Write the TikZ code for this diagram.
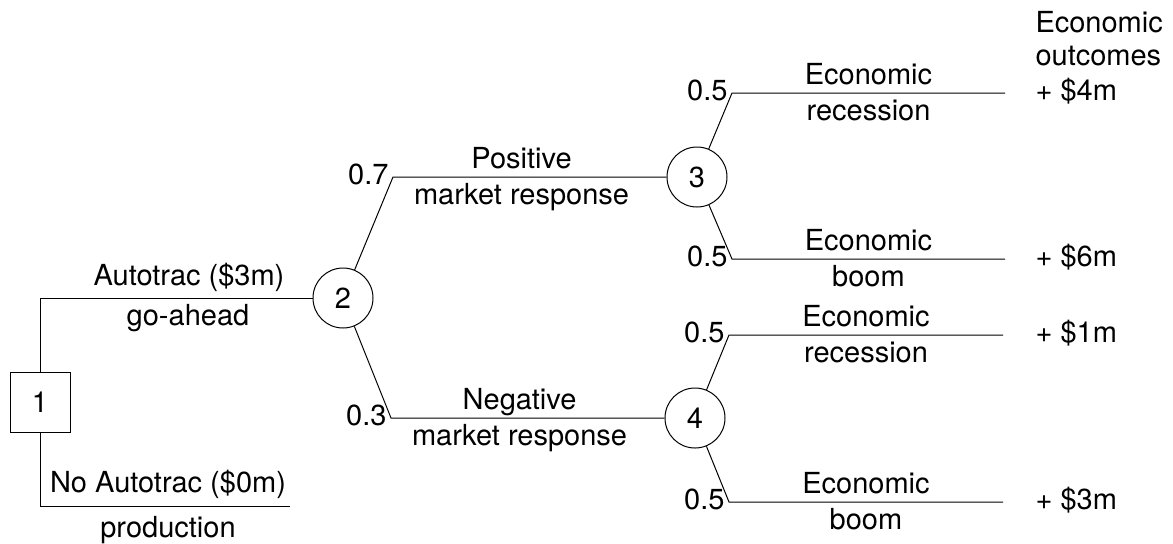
\documentclass[tikz,border=0pt]{standalone}
\usepackage{fontspec}
\setmainfont{TeX Gyre Heros}
\usetikzlibrary{positioning}

\begin{document}
\begin{tikzpicture}[x=0.5pt, y=-0.5pt, line width=0.5pt,
    every node/.style={font=\fontsize{14.5}{17}\selectfont},
    decision/.style={rectangle, draw, minimum size=30pt, inner sep=0pt},
    chance/.style={circle, draw, minimum size=30pt, inner sep=0pt},
    lbl/.style={text height=10.5pt, text depth=3pt, inner sep=1pt},
    lblup/.style={lbl, above},
    lbldown/.style={lbl, below, inner ysep=3pt},
    prob/.style={lbl, left, inner xsep=2pt},
    payoff/.style={lbl, anchor=west, inner sep=0pt}]

            \useasboundingbox (0,0) rectangle (1173,543);
            % Decision node
            \node[decision] (d1) at (40,402) {1};
            % Chance nodes
            \node[chance] (c2) at (343,298) {2};
            \node[chance] (c3) at (697,177) {3};
            \node[chance] (c4) at (695,418) {4};
            % Bends and free ends
            \coordinate (noend) at (290,506);
            \coordinate (kpos) at (393,177);
            \coordinate (kneg) at (391,418);
            \coordinate (k3r) at (732,93);
            \coordinate (k3b) at (732,259);
            \coordinate (k4r) at (729,335);
            \coordinate (k4b) at (729,502);
            \coordinate (e3r) at (1005,93);
            \coordinate (e3b) at (1005,259);
            \coordinate (e4r) at (1003,335);
            \coordinate (e4b) at (1003,502);
            % Decision branches
            \draw (d1.north) |- (c2);
            \draw (d1.south) |- (noend);
            \node[lbl, above, inner ysep=3pt] (goa) at (189,298) {Autotrac (\$3m)};
            \node[lbldown] (gob) at (188,298) {go-ahead};
            \node[lbl, above, inner ysep=3.5pt] (noa) at (168,506) {No Autotrac (\$0m)};
            \node[lbl, below, inner ysep=5pt] (nob) at (168,506) {production};
            % Market response
            \draw (c2) -- (kpos) node[prob] (p7) {0.7}
                -- node[lblup, pos=0.47] (pt) {Positive} node[lbldown, pos=0.47] (pb) {market response} (c3);
            \draw (c2) -- (kneg) node[prob] (p3) {0.3}
                -- node[lblup, pos=0.47] (nt) {Negative} node[lbldown, pos=0.47] (nb) {market response} (c4);
            % Economy after positive response
            \draw (c3) -- (k3r) node[prob] (q1) {0.5}
                -- node[lblup] (r1t) {Economic} node[lbldown] (r1b) {recession} (e3r);
            \draw (c3) -- (k3b) node[prob] (q2) {0.5}
                -- node[lblup] (b1t) {Economic} node[lbldown] (b1b) {boom} (e3b);
            % Economy after negative response
            \draw (c4) -- (k4r) node[prob] (q3) {0.5}
                -- node[lblup] (r2t) {Economic} node[lbldown] (r2b) {recession} (e4r);
            \draw (c4) -- (k4b) node[prob] (q4) {0.5}
                -- node[lblup] (b2t) {Economic} node[lbldown] (b2b) {boom} (e4b);
            % Outcomes
            \node[lbl, anchor=base west, inner sep=0pt] (h1) at (1035,32) {Economic};
            \node[lbl, anchor=base west, inner sep=0pt] (h2) at (1035,65) {outcomes};
            \node[payoff] (v4) at (1035,93) {+ \$4m};
            \node[payoff] (v6) at (1035,259) {+ \$6m};
            \node[payoff] (v1) at (1035,335) {+ \$1m};
            \node[payoff] (v3) at (1035,502) {+ \$3m};
        \end{tikzpicture}
\end{document}
